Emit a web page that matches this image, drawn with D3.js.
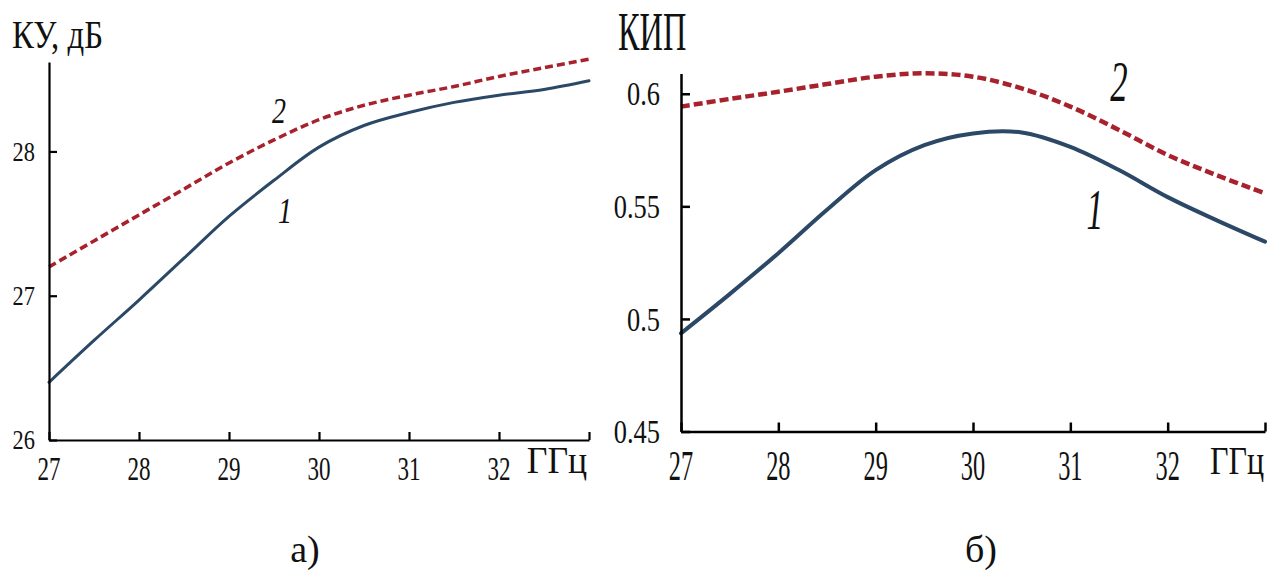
<!DOCTYPE html>
<html>
<head>
<meta charset="utf-8">
<script src="https://cdn.jsdelivr.net/npm/d3@7"></script>
<style>
  html, body { margin: 0; padding: 0; background: #fff; }
  svg { display: block; }
  text { font-family: "Liberation Serif", "Times New Roman", serif; fill: #111; }
</style>
</head>
<body>
<svg id="chart" width="1280" height="570"></svg>
<script>
// Frequency grid, GHz
const freqGHz = [27, 27.5, 28, 28.5, 29, 29.5, 30, 30.5, 31, 31.5, 32, 32.5, 33];

// Panel а: gain, dB
const gainCurve1 = [26.40, 26.69, 26.97, 27.26, 27.55, 27.80, 28.03, 28.18, 28.27, 28.34, 28.39, 28.43, 28.49];
const gainCurve2 = [27.20, 27.38, 27.56, 27.74, 27.92, 28.08, 28.22, 28.32, 28.39, 28.45, 28.52, 28.58, 28.64];

// Panel б: aperture efficiency
const effCurve1 = [0.4936, 0.5110, 0.5292, 0.5485, 0.5661, 0.5772, 0.5824, 0.5828, 0.5764, 0.5661, 0.5541, 0.5439, 0.5343];
const effCurve2 = [0.5943, 0.5977, 0.6009, 0.6043, 0.6076, 0.6091, 0.6076, 0.6024, 0.5943, 0.5839, 0.5728, 0.5639, 0.5558];

// Tick values and labels
const freqTicks = [27, 28, 29, 30, 31, 32, 33];
const freqLabels = ["27", "28", "29", "30", "31", "32"];
const gainTicks = [26, 27, 28];
const gainLabels = ["26", "27", "28"];
const effTicks = [0.45, 0.5, 0.55, 0.6];
const effLabels = ["0.45", "0.5", "0.55", "0.6"];

const svg = d3.select("#chart");

const solidColor = "#2b4866";
const dashColor = "#a8222d";

// Condensed text helper: text is drawn at the origin and placed by a transform
function label(g, x, y, str, o) {
  return g.append("text")
    .attr("transform", `translate(${x},${y}) scale(${o.sx || 1},1)`)
    .attr("text-anchor", o.anchor || "middle")
    .attr("dominant-baseline", o.baseline || "alphabetic")
    .style("font-size", o.size + "px")
    .style("font-style", o.italic ? "italic" : "normal")
    .text(str);
}

function drawPanel(cfg) {
  const g = svg.append("g");
  const x = d3.scaleLinear().domain([27, 33]).range(cfg.xRange);
  const y = d3.scaleLinear().domain(cfg.yDomain).range(cfg.yRange);

  const line = d3.line()
    .x((d, i) => x(freqGHz[i]))
    .y(d => y(d))
    .curve(d3.curveCatmullRom.alpha(0.5));

  // curves
  g.append("path").datum(cfg.s1)
    .attr("d", line).attr("fill", "none")
    .attr("stroke", solidColor).attr("stroke-width", cfg.solidW)
    .attr("stroke-linecap", "round");
  g.append("path").datum(cfg.s2)
    .attr("d", line).attr("fill", "none")
    .attr("stroke", dashColor).attr("stroke-width", cfg.dashW)
    .attr("stroke-dasharray", cfg.dash);

  // axes with inward ticks
  const xAxis = d3.axisBottom(x).tickValues(freqTicks).tickSizeInner(-cfg.tick).tickSizeOuter(0).tickFormat("");
  const yAxis = d3.axisLeft(y).tickValues(cfg.yTicks).tickSizeInner(-cfg.tick).tickSizeOuter(0).tickFormat("");
  const xg = g.append("g").attr("transform", `translate(0,${cfg.yRange[0]})`).call(xAxis);
  const yg = g.append("g").attr("transform", `translate(${cfg.xRange[0]},0)`).call(yAxis);
  [xg, yg].forEach(a => {
    a.selectAll("path, line").attr("stroke", "#000").attr("stroke-width", cfg.axisW);
  });

  // tick labels
  freqLabels.forEach(t => {
    label(g, x(+t), cfg.xLabelY, t, { size: cfg.xLabelSize, sx: cfg.xLabelSx });
  });
  cfg.yTicks.forEach((t, i) => {
    label(g, cfg.yLabelX, y(t), cfg.yLabels[i], { size: cfg.yLabelSize, sx: cfg.yLabelSx, anchor: "end", baseline: "central" });
  });

  // unit and title
  label(g, cfg.unit.x, cfg.unit.y, "ГГц", { size: cfg.unit.size, sx: cfg.unit.sx });
  label(g, cfg.title.x, cfg.title.y, cfg.title.text, { size: cfg.title.size, sx: cfg.title.sx, anchor: "start" });

  // curve numbers
  cfg.marks.forEach(m => label(g, m.x, m.y, m.text, { size: m.size, sx: m.sx, italic: true }));

  // panel caption
  label(g, cfg.caption.x, cfg.caption.y, cfg.caption.text, { size: 38 });
}

drawPanel({
  xRange: [49, 589], yDomain: [26, 28.62], yRange: [440, 62],
  s1: gainCurve1, s2: gainCurve2,
  yTicks: gainTicks, yLabels: gainLabels,
  solidW: 3, dashW: 3.5, dash: "8,4", axisW: 2.2, tick: 8,
  xLabelY: 480, xLabelSize: 33, xLabelSx: 0.7,
  yLabelX: 35, yLabelSize: 27, yLabelSx: 0.83,
  unit: { x: 557, y: 473, size: 38, sx: 0.94 },
  title: { x: 12, y: 48, text: "КУ, дБ", size: 40, sx: 0.82 },
  marks: [ { x: 279, y: 123, text: "2", size: 35, sx: 0.8 },
           { x: 285, y: 223, text: "1", size: 35, sx: 0.8 } ],
  caption: { x: 305, y: 562, text: "а)" }
});

drawPanel({
  xRange: [681, 1265], yDomain: [0.45, 0.609], yRange: [431.5, 73.5],
  s1: effCurve1, s2: effCurve2,
  yTicks: effTicks, yLabels: effLabels,
  solidW: 4, dashW: 4.5, dash: "9,4", axisW: 2.5, tick: 9,
  xLabelY: 480, xLabelSize: 42, xLabelSx: 0.58,
  yLabelX: 660, yLabelSize: 33, yLabelSx: 0.8,
  unit: { x: 1237, y: 474, size: 40, sx: 0.8 },
  title: { x: 618, y: 50, text: "КИП", size: 54, sx: 0.6 },
  marks: [ { x: 1119, y: 101, text: "2", size: 58, sx: 0.6 },
           { x: 1095, y: 229, text: "1", size: 56, sx: 0.6 } ],
  caption: { x: 981, y: 562, text: "б)" }
});
</script>
</body>
</html>
